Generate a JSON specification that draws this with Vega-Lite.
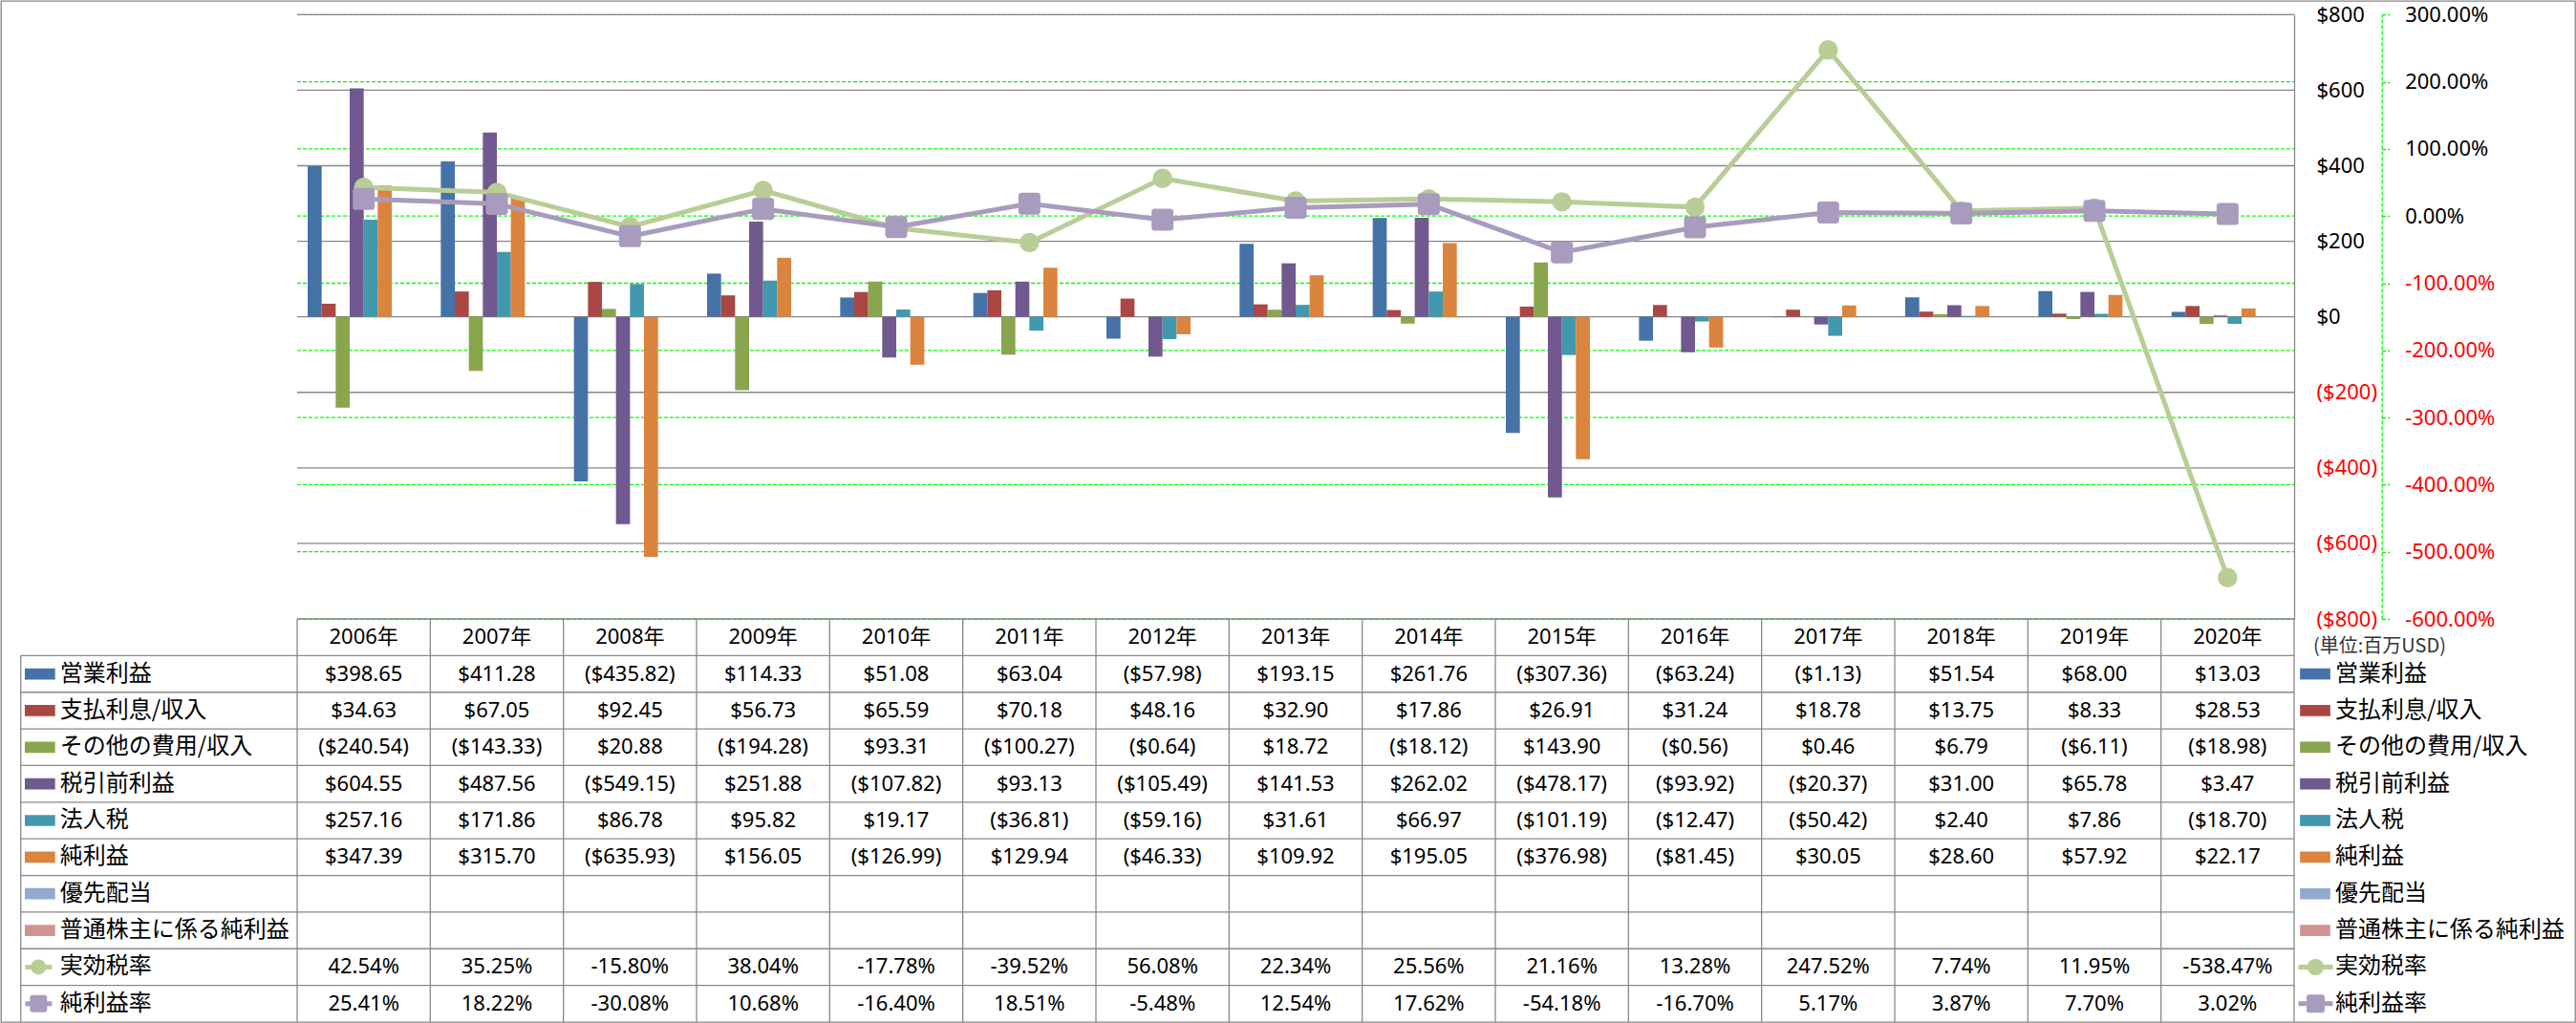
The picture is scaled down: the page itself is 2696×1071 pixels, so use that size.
{
"$schema": "https://vega.github.io/schema/vega-lite/v6.json",
"width": 2694, "height": 1069,
"padding": {"left": 1, "top": 1, "right": 1, "bottom": 1},
"autosize": {"type": "none"},
"background": "white",
"config": {
  "view": {"stroke": "#868686", "strokeWidth": 1.3},
  "locale": {"number": {"decimal": ".", "thousands": ",", "grouping": [3], "currency": ["$", ""], "minus": "-"}},
  "axis": {"grid": false}
},
"datasets": {
  "dollarTicks": [{"value": -800},{"value": -600},{"value": -400},{"value": -200},{"value": 0},{"value": 200},{"value": 400},{"value": 600},{"value": 800}],
  "pctTicks": [{"value": -6},{"value": -5},{"value": -4},{"value": -3},{"value": -2},{"value": -1},{"value": 0},{"value": 1},{"value": 2},{"value": 3}],
  "rows": [{"series":"営業利益","kind":"bar"},{"series":"支払利息/収入","kind":"bar"},{"series":"その他の費用/収入","kind":"bar"},{"series":"税引前利益","kind":"bar"},{"series":"法人税","kind":"bar"},{"series":"純利益","kind":"bar"},{"series":"優先配当","kind":"bar"},{"series":"普通株主に係る純利益","kind":"bar"},{"series":"実効税率","kind":"circle"},{"series":"純利益率","kind":"square"}],
  "fin": [
    {"year":"2006年","series":"営業利益","value":398.65},{"year":"2006年","series":"支払利息/収入","value":34.63},{"year":"2006年","series":"その他の費用/収入","value":-240.54},{"year":"2006年","series":"税引前利益","value":604.55},{"year":"2006年","series":"法人税","value":257.16},{"year":"2006年","series":"純利益","value":347.39},
    {"year":"2007年","series":"営業利益","value":411.28},{"year":"2007年","series":"支払利息/収入","value":67.05},{"year":"2007年","series":"その他の費用/収入","value":-143.33},{"year":"2007年","series":"税引前利益","value":487.56},{"year":"2007年","series":"法人税","value":171.86},{"year":"2007年","series":"純利益","value":315.70},
    {"year":"2008年","series":"営業利益","value":-435.82},{"year":"2008年","series":"支払利息/収入","value":92.45},{"year":"2008年","series":"その他の費用/収入","value":20.88},{"year":"2008年","series":"税引前利益","value":-549.15},{"year":"2008年","series":"法人税","value":86.78},{"year":"2008年","series":"純利益","value":-635.93},
    {"year":"2009年","series":"営業利益","value":114.33},{"year":"2009年","series":"支払利息/収入","value":56.73},{"year":"2009年","series":"その他の費用/収入","value":-194.28},{"year":"2009年","series":"税引前利益","value":251.88},{"year":"2009年","series":"法人税","value":95.82},{"year":"2009年","series":"純利益","value":156.05},
    {"year":"2010年","series":"営業利益","value":51.08},{"year":"2010年","series":"支払利息/収入","value":65.59},{"year":"2010年","series":"その他の費用/収入","value":93.31},{"year":"2010年","series":"税引前利益","value":-107.82},{"year":"2010年","series":"法人税","value":19.17},{"year":"2010年","series":"純利益","value":-126.99},
    {"year":"2011年","series":"営業利益","value":63.04},{"year":"2011年","series":"支払利息/収入","value":70.18},{"year":"2011年","series":"その他の費用/収入","value":-100.27},{"year":"2011年","series":"税引前利益","value":93.13},{"year":"2011年","series":"法人税","value":-36.81},{"year":"2011年","series":"純利益","value":129.94},
    {"year":"2012年","series":"営業利益","value":-57.98},{"year":"2012年","series":"支払利息/収入","value":48.16},{"year":"2012年","series":"その他の費用/収入","value":-0.64},{"year":"2012年","series":"税引前利益","value":-105.49},{"year":"2012年","series":"法人税","value":-59.16},{"year":"2012年","series":"純利益","value":-46.33},
    {"year":"2013年","series":"営業利益","value":193.15},{"year":"2013年","series":"支払利息/収入","value":32.90},{"year":"2013年","series":"その他の費用/収入","value":18.72},{"year":"2013年","series":"税引前利益","value":141.53},{"year":"2013年","series":"法人税","value":31.61},{"year":"2013年","series":"純利益","value":109.92},
    {"year":"2014年","series":"営業利益","value":261.76},{"year":"2014年","series":"支払利息/収入","value":17.86},{"year":"2014年","series":"その他の費用/収入","value":-18.12},{"year":"2014年","series":"税引前利益","value":262.02},{"year":"2014年","series":"法人税","value":66.97},{"year":"2014年","series":"純利益","value":195.05},
    {"year":"2015年","series":"営業利益","value":-307.36},{"year":"2015年","series":"支払利息/収入","value":26.91},{"year":"2015年","series":"その他の費用/収入","value":143.90},{"year":"2015年","series":"税引前利益","value":-478.17},{"year":"2015年","series":"法人税","value":-101.19},{"year":"2015年","series":"純利益","value":-376.98},
    {"year":"2016年","series":"営業利益","value":-63.24},{"year":"2016年","series":"支払利息/収入","value":31.24},{"year":"2016年","series":"その他の費用/収入","value":-0.56},{"year":"2016年","series":"税引前利益","value":-93.92},{"year":"2016年","series":"法人税","value":-12.47},{"year":"2016年","series":"純利益","value":-81.45},
    {"year":"2017年","series":"営業利益","value":-1.13},{"year":"2017年","series":"支払利息/収入","value":18.78},{"year":"2017年","series":"その他の費用/収入","value":0.46},{"year":"2017年","series":"税引前利益","value":-20.37},{"year":"2017年","series":"法人税","value":-50.42},{"year":"2017年","series":"純利益","value":30.05},
    {"year":"2018年","series":"営業利益","value":51.54},{"year":"2018年","series":"支払利息/収入","value":13.75},{"year":"2018年","series":"その他の費用/収入","value":6.79},{"year":"2018年","series":"税引前利益","value":31.00},{"year":"2018年","series":"法人税","value":2.40},{"year":"2018年","series":"純利益","value":28.60},
    {"year":"2019年","series":"営業利益","value":68.00},{"year":"2019年","series":"支払利息/収入","value":8.33},{"year":"2019年","series":"その他の費用/収入","value":-6.11},{"year":"2019年","series":"税引前利益","value":65.78},{"year":"2019年","series":"法人税","value":7.86},{"year":"2019年","series":"純利益","value":57.92},
    {"year":"2020年","series":"営業利益","value":13.03},{"year":"2020年","series":"支払利息/収入","value":28.53},{"year":"2020年","series":"その他の費用/収入","value":-18.98},{"year":"2020年","series":"税引前利益","value":3.47},{"year":"2020年","series":"法人税","value":-18.70},{"year":"2020年","series":"純利益","value":22.17}
  ],
  "rates": [
    {"year":"2006年","series":"実効税率","value":0.4254},{"year":"2007年","series":"実効税率","value":0.3525},{"year":"2008年","series":"実効税率","value":-0.158},{"year":"2009年","series":"実効税率","value":0.3804},{"year":"2010年","series":"実効税率","value":-0.1778},{"year":"2011年","series":"実効税率","value":-0.3952},{"year":"2012年","series":"実効税率","value":0.5608},{"year":"2013年","series":"実効税率","value":0.2234},{"year":"2014年","series":"実効税率","value":0.2556},{"year":"2015年","series":"実効税率","value":0.2116},{"year":"2016年","series":"実効税率","value":0.1328},{"year":"2017年","series":"実効税率","value":2.4752},{"year":"2018年","series":"実効税率","value":0.0774},{"year":"2019年","series":"実効税率","value":0.1195},{"year":"2020年","series":"実効税率","value":-5.3847},
    {"year":"2006年","series":"純利益率","value":0.2541},{"year":"2007年","series":"純利益率","value":0.1822},{"year":"2008年","series":"純利益率","value":-0.3008},{"year":"2009年","series":"純利益率","value":0.1068},{"year":"2010年","series":"純利益率","value":-0.164},{"year":"2011年","series":"純利益率","value":0.1851},{"year":"2012年","series":"純利益率","value":-0.0548},{"year":"2013年","series":"純利益率","value":0.1254},{"year":"2014年","series":"純利益率","value":0.1762},{"year":"2015年","series":"純利益率","value":-0.5418},{"year":"2016年","series":"純利益率","value":-0.167},{"year":"2017年","series":"純利益率","value":0.0517},{"year":"2018年","series":"純利益率","value":0.0387},{"year":"2019年","series":"純利益率","value":0.077},{"year":"2020年","series":"純利益率","value":0.0302}
  ]
},
"layer": [
  {
    "data": {"name": "pctTicks"},
    "mark": {"type": "rule", "color": "#00FF00", "strokeWidth": 1.3, "strokeDash": [4, 2]},
    "encoding": {
      "x": {"datum": "2006年", "bandPosition": 0, "axis": null, "scale": {"type":"band","domain":["L1","L2","2006年","2007年","2008年","2009年","2010年","2011年","2012年","2013年","2014年","2015年","2016年","2017年","2018年","2019年","2020年","R1","R2"],"paddingInner":0,"paddingOuter":0.16746,"align":0.6714}},
      "x2": {"datum": "2020年", "bandPosition": 1},
      "y": {"field": "value", "type": "quantitative", "title": null,
        "scale": {"domain": [-6, 3], "range": [647, 14.3], "nice": false},
        "axis": {"orient": "right", "offset": -202.3, "values": [-6,-5,-4,-3,-2,-1,0,1,2,3], "format": ".2%",
          "domain": true, "domainColor": "#00FF00", "domainDash": [4, 2], "domainWidth": 1.3,
          "ticks": true, "tickColor": "#00FF00", "tickSize": 8, "tickWidth": 1.3, "tickDash": [4, 2],
          "labelPadding": 16, "labelFont": "Noto Sans", "labelFontSize": 22, "labelFlush": false, "labelOverlap": false, "labelBound": false,
          "labelColor": {"condition": {"test": "datum.value < 0", "value": "#FF0000"}, "value": "#000000"}, "grid": false, "title": null}}
    }
  },
  {
    "layer": [
      {
        "data": {"name": "dollarTicks"},
        "mark": {"type": "rule", "color": "#868686", "strokeWidth": 1.3},
        "encoding": {
          "x": {"datum": "2006年", "bandPosition": 0, "axis": null},
          "x2": {"datum": "2020年", "bandPosition": 1},
          "y": {"field": "value", "type": "quantitative", "title": null,
            "scale": {"domain": [-800, 800], "range": [647, 14.3], "nice": false},
            "axis": {"orient": "right", "offset": -294, "values": [-800,-600,-400,-200,0,200,400,600,800], "format": "($,d",
              "domain": true, "domainColor": "#868686", "domainWidth": 1.3, "ticks": false, "tickSize": 0,
              "labelPadding": 23, "labelFont": "Noto Sans", "labelFontSize": 22, "labelFlush": false, "labelOverlap": false, "labelBound": false,
              "labelColor": {"condition": {"test": "datum.value < 0", "value": "#FF0000"}, "value": "#000000"}, "grid": false, "title": null}}
        }
      },
      {
        "data": {"name": "fin"},
        "mark": {"type": "bar"},
        "encoding": {
          "x": {"field": "year", "type": "nominal", "axis": null},
          "xOffset": {"field": "series", "type": "nominal", "scale": {"domain": ["営業利益","支払利息/収入","その他の費用/収入","税引前利益","法人税","純利益","優先配当","普通株主に係る純利益"], "paddingInner": 0, "paddingOuter": 0.75}},
          "y": {"field": "value", "type": "quantitative", "title": null, "scale": {"domain": [-800, 800], "range": [647, 14.3], "nice": false}},
          "color": {"field": "series", "type": "nominal", "legend": null,
            "scale": {"domain": ["営業利益","支払利息/収入","その他の費用/収入","税引前利益","法人税","純利益","優先配当","普通株主に係る純利益","実効税率","純利益率"],
                      "range": ["#4572A7","#AA4643","#89A54E","#71588F","#4198AF","#DB843D","#93A9CF","#D19392","#B9CD96","#A99BBD"]}}
        }
      }
    ]
  },
  {
    "data": {"name": "rates"},
    "encoding": {
      "x": {"field": "year", "type": "nominal", "axis": null},
      "y": {"field": "value", "type": "quantitative", "title": null, "axis": null, "scale": {"domain": [-6, 3], "range": [647, 14.3], "nice": false}}
    },
    "layer": [
      {"transform": [{"filter": "datum.series === '実効税率'"}], "mark": {"type": "line", "strokeWidth": 5, "color": "#B9CD96"}},
      {"transform": [{"filter": "datum.series === '実効税率'"}], "mark": {"type": "point", "shape": "circle", "filled": true, "size": 415, "opacity": 1, "color": "#B9CD96"}},
      {"transform": [{"filter": "datum.series === '純利益率'"}], "mark": {"type": "line", "strokeWidth": 5, "color": "#A99BBD"}},
      {"transform": [{"filter": "datum.series === '純利益率'"}], "mark": {"type": "point", "shape": "M-0.7,-1H0.7Q1,-1 1,-0.7V0.7Q1,1 0.7,1H-0.7Q-1,1 -1,0.7V-0.7Q-1,-1 -0.7,-1Z", "filled": true, "size": 529, "opacity": 1, "color": "#A99BBD"}}
    ]
  },
  {
    "layer": [
      {
        "data": {"name": "rows"},
        "mark": {"type": "rule", "color": "#898989", "strokeWidth": 1.3, "xOffset": -10.6},
        "encoding": {
          "x": {"datum": "L1", "bandPosition": 0, "axis": null},
          "x2": {"datum": "2020年", "bandPosition": 1},
          "y": {"field": "series", "type": "nominal", "bandPosition": 0, "axis": null,
                "scale": {"type": "band", "domain": ["hdr","営業利益","支払利息/収入","その他の費用/収入","税引前利益","法人税","純利益","優先配当","普通株主に係る純利益","実効税率","純利益率"], "range": [647, 1069], "paddingInner": 0, "paddingOuter": 0}}
        }
      },
      {
        "data": {"name": "fin"},
        "transform": [{"filter": "datum.series === '営業利益'"}],
        "mark": {"type": "rule", "color": "#898989", "strokeWidth": 1.3},
        "encoding": {
          "x": {"field": "year", "type": "nominal", "bandPosition": 0, "axis": null},
          "y": {"datum": "hdr", "bandPosition": 0},
          "y2": {"datum": "純利益率", "bandPosition": 1}
        }
      },
      {
        "data": {"name": "rows"},
        "transform": [{"filter": "datum.series === '営業利益'"}],
        "mark": {"type": "rule", "color": "#898989", "strokeWidth": 1.3},
        "encoding": {
          "x": {"datum": "2020年", "bandPosition": 1, "axis": null},
          "y": {"datum": "hdr", "bandPosition": 0},
          "y2": {"datum": "純利益率", "bandPosition": 1}
        }
      },
      {
        "data": {"name": "rows"},
        "transform": [{"filter": "datum.series === '営業利益'"}],
        "mark": {"type": "rule", "color": "#898989", "strokeWidth": 1.3, "xOffset": -10.6},
        "encoding": {
          "x": {"datum": "L1", "bandPosition": 0, "axis": null},
          "y": {"datum": "営業利益", "bandPosition": 0},
          "y2": {"datum": "純利益率", "bandPosition": 1}
        }
      },
      {
        "data": {"name": "fin"},
        "transform": [{"filter": "datum.series === '営業利益'"}],
        "mark": {"type": "text", "font": "Noto Sans, Noto Sans CJK JP", "fontSize": 22, "color": "#000000"},
        "encoding": {
          "x": {"field": "year", "type": "nominal", "axis": null},
          "y": {"datum": "hdr"},
          "text": {"field": "year"}
        }
      },
      {
        "data": {"name": "fin"},
        "mark": {"type": "text", "font": "Noto Sans", "fontSize": 22, "color": "#000000"},
        "encoding": {
          "x": {"field": "year", "type": "nominal", "axis": null},
          "y": {"field": "series", "type": "nominal"},
          "text": {"field": "value", "type": "quantitative", "format": "($.2f"}
        }
      },
      {
        "data": {"name": "rates"},
        "mark": {"type": "text", "font": "Noto Sans", "fontSize": 22, "color": "#000000"},
        "encoding": {
          "x": {"field": "year", "type": "nominal", "axis": null},
          "y": {"field": "series", "type": "nominal"},
          "text": {"field": "value", "type": "quantitative", "format": ".2%"}
        }
      },
      {
        "data": {"name": "rows"},
        "transform": [{"filter": "datum.kind === 'bar'"}],
        "mark": {"type": "point", "shape": "M-1,-0.37H1V0.37H-1Z", "filled": true, "size": 1005, "opacity": 1, "xOffset": 9.5},
        "encoding": {
          "x": {"datum": "L1", "bandPosition": 0, "axis": null},
          "y": {"field": "series", "type": "nominal"},
          "color": {"field": "series", "type": "nominal", "legend": null}
        }
      },
      {
        "data": {"name": "rows"},
        "transform": [{"filter": "datum.kind !== 'bar'"}],
        "mark": {"type": "point", "shape": "M-1,0H1", "filled": false, "strokeWidth": 5, "size": 784, "opacity": 1, "xOffset": 8},
        "encoding": {
          "x": {"datum": "L1", "bandPosition": 0, "axis": null},
          "y": {"field": "series", "type": "nominal"},
          "color": {"field": "series", "type": "nominal", "legend": null}
        }
      },
      {
        "data": {"name": "rows"},
        "transform": [{"filter": "datum.kind === 'circle'"}],
        "mark": {"type": "point", "shape": "circle", "filled": true, "size": 254, "opacity": 1, "xOffset": 8},
        "encoding": {
          "x": {"datum": "L1", "bandPosition": 0, "axis": null},
          "y": {"field": "series", "type": "nominal"},
          "color": {"field": "series", "type": "nominal", "legend": null}
        }
      },
      {
        "data": {"name": "rows"},
        "transform": [{"filter": "datum.kind === 'square'"}],
        "mark": {"type": "point", "shape": "M-0.7,-1H0.7Q1,-1 1,-0.7V0.7Q1,1 0.7,1H-0.7Q-1,1 -1,0.7V-0.7Q-1,-1 -0.7,-1Z", "filled": true, "size": 324, "opacity": 1, "xOffset": 8},
        "encoding": {
          "x": {"datum": "L1", "bandPosition": 0, "axis": null},
          "y": {"field": "series", "type": "nominal"},
          "color": {"field": "series", "type": "nominal", "legend": null}
        }
      },
      {
        "data": {"name": "rows"},
        "mark": {"type": "text", "font": "Noto Sans CJK JP", "fontSize": 24, "align": "left", "color": "#000000", "xOffset": 30.4},
        "encoding": {
          "x": {"datum": "L1", "bandPosition": 0, "axis": null},
          "y": {"field": "series", "type": "nominal"},
          "text": {"field": "series"}
        }
      },
      {
        "data": {"name": "rows"},
        "transform": [{"filter": "datum.kind === 'bar'"}],
        "mark": {"type": "point", "shape": "M-1,-0.37H1V0.37H-1Z", "filled": true, "size": 1005, "opacity": 1, "xOffset": 22},
        "encoding": {
          "x": {"datum": "R1", "bandPosition": 0, "axis": null},
          "y": {"field": "series", "type": "nominal"},
          "color": {"field": "series", "type": "nominal", "legend": null}
        }
      },
      {
        "data": {"name": "rows"},
        "transform": [{"filter": "datum.kind !== 'bar'"}],
        "mark": {"type": "point", "shape": "M-1,0H1", "filled": false, "strokeWidth": 5, "size": 1296, "opacity": 1, "xOffset": 22.5},
        "encoding": {
          "x": {"datum": "R1", "bandPosition": 0, "axis": null},
          "y": {"field": "series", "type": "nominal"},
          "color": {"field": "series", "type": "nominal", "legend": null}
        }
      },
      {
        "data": {"name": "rows"},
        "transform": [{"filter": "datum.kind === 'circle'"}],
        "mark": {"type": "point", "shape": "circle", "filled": true, "size": 300, "opacity": 1, "xOffset": 22.5},
        "encoding": {
          "x": {"datum": "R1", "bandPosition": 0, "axis": null},
          "y": {"field": "series", "type": "nominal"},
          "color": {"field": "series", "type": "nominal", "legend": null}
        }
      },
      {
        "data": {"name": "rows"},
        "transform": [{"filter": "datum.kind === 'square'"}],
        "mark": {"type": "point", "shape": "M-0.7,-1H0.7Q1,-1 1,-0.7V0.7Q1,1 0.7,1H-0.7Q-1,1 -1,0.7V-0.7Q-1,-1 -0.7,-1Z", "filled": true, "size": 361, "opacity": 1, "xOffset": 22.5},
        "encoding": {
          "x": {"datum": "R1", "bandPosition": 0, "axis": null},
          "y": {"field": "series", "type": "nominal"},
          "color": {"field": "series", "type": "nominal", "legend": null}
        }
      },
      {
        "data": {"name": "rows"},
        "mark": {"type": "text", "font": "Noto Sans CJK JP", "fontSize": 24, "align": "left", "color": "#000000", "xOffset": 43},
        "encoding": {
          "x": {"datum": "R1", "bandPosition": 0, "axis": null},
          "y": {"field": "series", "type": "nominal"},
          "text": {"field": "series"}
        }
      },
      {
        "data": {"name": "rows"},
        "transform": [{"filter": "datum.series === '営業利益'"}],
        "mark": {"type": "text", "font": "Noto Sans CJK JP", "fontSize": 20, "align": "left", "color": "#333333", "xOffset": 20, "yOffset": 10},
        "encoding": {
          "x": {"datum": "R1", "bandPosition": 0, "axis": null},
          "y": {"datum": "hdr"},
          "text": {"value": "(単位:百万USD)"}
        }
      }
    ]
  }
],
"resolve": {"scale": {"y": "independent"}, "axis": {"y": "independent"}}
}
